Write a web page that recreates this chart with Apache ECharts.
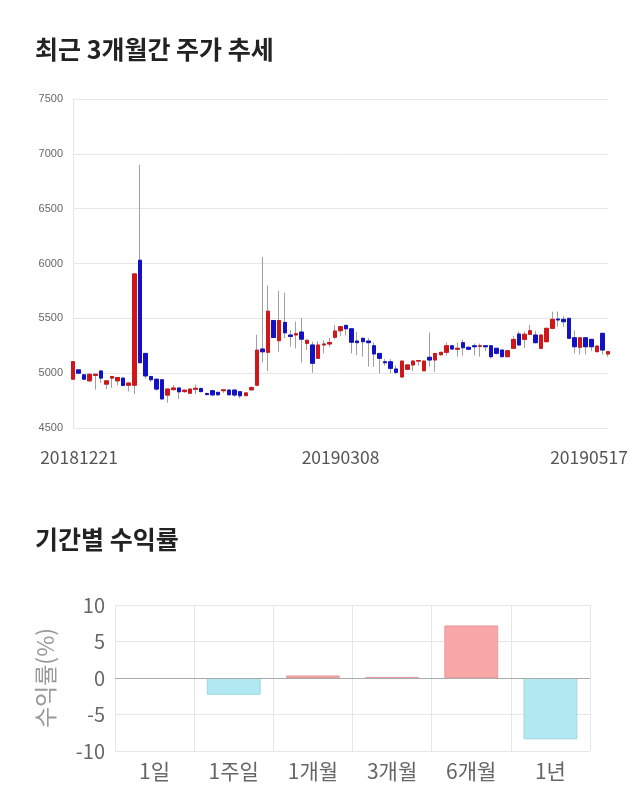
<!DOCTYPE html>
<html><head><meta charset="utf-8">
<script src="https://cdn.jsdelivr.net/npm/echarts@6/dist/echarts.min.js"></script>
<style>html,body{margin:0;padding:0;background:#fff}#c{width:640px;height:810px}</style>
</head><body><div id="c"></div>
<script>
const dates = ['20181221','20181224','20181226','20181227','20181228',
'20190102','20190103','20190104','20190107','20190108','20190109','20190110','20190111','20190114','20190115','20190116','20190117','20190118','20190121','20190122','20190123','20190124','20190125','20190128','20190129','20190130','20190131',
'20190201','20190207','20190208','20190211','20190212','20190213','20190214','20190215','20190218','20190219','20190220','20190221','20190222','20190225','20190226','20190227','20190228',
'20190304','20190305','20190306','20190307','20190308','20190311','20190312','20190313','20190314','20190315','20190318','20190319','20190320','20190321','20190322','20190325','20190326','20190327','20190328','20190329',
'20190401','20190402','20190403','20190404','20190405','20190408','20190409','20190410','20190411','20190412','20190415','20190416','20190417','20190418','20190419','20190422','20190423','20190424','20190425','20190426','20190429','20190430',
'20190502','20190503','20190507','20190508','20190509','20190510','20190513','20190514','20190515','20190516','20190517'];
const opens  = [4945,5030,4985,4930,4980,5020,4900,4955,4930,4955,4890,4890,6030,5180,4970,4945,4940,4800,4850,4865,4832,4817,4853,4860,4815,4840,4825,4840,4846,4846,4831,4795,4848,4890,5220,5190,5480,5296,5463,5348,5348,5375,5272,5257,5135,5257,5266,5327,5387,5436,5405,5293,5318,5293,5250,5180,5104,5104,5038,4965,5035,5075,5110,5022,5145,5120,5168,5190,5250,5218,5278,5236,5250,5245,5250,5250,5227,5211,5150,5227,5357,5308,5355,5348,5227,5287,5409,5494,5491,5500,5323,5236,5323,5308,5196,5363,5175];
const closes = [5105,5000,4945,4990,4990,4955,4930,4970,4960,4888,4910,5905,5095,4975,4940,4855,4765,4855,4865,4830,4845,4855,4862,4832,4805,4802,4803,4848,4803,4801,4794,4820,4868,5210,5195,5565,5325,5480,5368,5335,5360,5310,5300,5090,5257,5266,5280,5384,5424,5405,5282,5278,5287,5278,5175,5135,5095,5044,5007,5110,5075,5110,5115,5110,5120,5180,5190,5250,5220,5227,5232,5218,5241,5250,5241,5150,5181,5150,5205,5308,5257,5355,5387,5278,5348,5409,5491,5485,5469,5318,5241,5323,5241,5241,5247,5211,5196];
const lows   = [4940,4990,4935,4920,4850,4910,4855,4865,4890,4880,4835,4810,5090,4950,4920,4840,4760,4730,4840,4765,4820,4810,4810,4825,4795,4790,4795,4820,4800,4785,4770,4790,4840,4880,5100,5020,5320,5195,5320,5241,5227,5095,5211,5004,5130,5180,5240,5310,5338,5345,5180,5165,5150,5059,5059,4998,5070,5000,4990,4960,5030,5020,5070,5018,5059,5013,5160,5160,5215,5150,5160,5210,5160,5150,5200,5135,5170,5145,5145,5220,5250,5230,5350,5270,5220,5280,5400,5424,5420,5310,5180,5170,5170,5200,5190,5170,5150];
const highs  = [5110,5035,4990,4995,4995,5025,4935,4975,4965,4960,4915,5910,6900,5185,4975,4950,4945,4860,4892,4870,4850,4860,4895,4870,4820,4845,4830,4855,4850,4850,4835,4825,4880,5350,6060,5800,5485,5750,5733,5393,5470,5504,5305,5287,5290,5300,5320,5439,5430,5440,5410,5378,5325,5320,5280,5185,5130,5130,5070,5115,5080,5120,5120,5115,5370,5185,5195,5280,5255,5280,5305,5240,5270,5270,5255,5255,5230,5215,5210,5340,5380,5380,5440,5385,5355,5415,5561,5561,5520,5505,5390,5330,5330,5315,5255,5370,5200];
const priceTicks = [4500, 7500, 500];

const periods = ['1일','1주일','1개월','3개월','6개월','1년'];
const returns = [0, -2.3, 0.35, 0.15, 7.2, -8.4];
const returnTicks = [-10, 10, 5];

const FONT = "'Noto Sans CJK KR','Noto Sans',sans-serif";
const wickData = dates.map((d,i)=>[opens[i],closes[i],lows[i],highs[i]]);
const bodyData = dates.map((d,i)=>[opens[i],closes[i],Math.min(opens[i],closes[i]),Math.max(opens[i],closes[i])]);
const barData = returns.map(v=>({value:v, itemStyle:{
  color: v>=0 ? '#f7a7a7' : '#b1e9f3',
  borderColor: v>=0 ? '#eb9c9c' : '#9fd7e1',
  borderWidth: v===0 ? 0 : 1}}));
const last = dates.length-1;

const chart = echarts.init(document.getElementById('c'), null, {renderer:'canvas'});
chart.setOption({
  animation:false,
  backgroundColor:'#fff',
  title:[
    {text:'최근 3개월간 주가 추세', left:30, top:32, textStyle:{fontFamily:FONT,fontSize:25,fontWeight:'bold',color:'#222'}},
    {text:'기간별 수익률', left:30, top:522, textStyle:{fontFamily:FONT,fontSize:25,fontWeight:'bold',color:'#222'}}
  ],
  grid:[
    {left:73, right:32, top:99, height:329},
    {left:115, right:50, top:605, height:146}
  ],
  xAxis:[
    {type:'category', gridIndex:0, data:dates, boundaryGap:false,
     axisLine:{show:false}, axisTick:{show:false}, splitLine:{show:false},
     axisLabel:{interval:47, margin:21, color:'#555', fontSize:17.5, fontFamily:FONT,
       formatter:(v,i)=> i===0 ? '{f|'+v+'}' : (i===last ? '{l|'+v+'}' : '{m|'+v+'}'),
       rich:{f:{padding:[0,0,0,12],fontSize:17.5,color:'#555',fontFamily:FONT},
             m:{fontSize:17.5,color:'#555',fontFamily:FONT},
             l:{padding:[0,38,0,0],fontSize:17.5,color:'#555',fontFamily:FONT}}}},
    {type:'category', gridIndex:1, data:periods,
     axisLine:{show:false,onZero:false}, axisTick:{show:false},
     splitLine:{show:true,lineStyle:{color:'#e6e6e6'}},
     axisLabel:{margin:10, color:'#666', fontSize:21, fontFamily:FONT}}
  ],
  yAxis:[
    {type:'value', gridIndex:0, min:priceTicks[0], max:priceTicks[1], interval:priceTicks[2],
     axisLine:{show:true,lineStyle:{color:'#e6e6e6'}}, axisTick:{show:false},
     splitLine:{lineStyle:{color:'#e6e6e6'}},
     axisLabel:{color:'#666', fontSize:11, margin:10, formatter:(v)=>String(v), fontFamily:"'Liberation Sans',Arial,sans-serif"}},
    {type:'value', gridIndex:1, min:returnTicks[0], max:returnTicks[1], interval:returnTicks[2],
     name:'수익률(%)', nameLocation:'middle', nameRotate:90, nameGap:58,
     nameTextStyle:{color:'#999', fontSize:23, fontFamily:FONT},
     axisLine:{show:false}, axisTick:{show:false},
     splitLine:{lineStyle:{color:'#e6e6e6'}},
     axisLabel:{color:'#666', fontSize:20, margin:10, fontFamily:FONT}}
  ],
  series:[
    {type:'candlestick', xAxisIndex:0, yAxisIndex:0, data:wickData, barWidth:4,
     itemStyle:{color:'#a0a0a0',color0:'#a0a0a0',borderColor:'#a0a0a0',borderColor0:'#a0a0a0',borderWidth:1}},
    {type:'candlestick', xAxisIndex:0, yAxisIndex:0, data:bodyData, barWidth:4,
     itemStyle:{color:'#d0161b',color0:'#1212c4',borderColor:'#d0161b',borderColor0:'#1212c4',borderWidth:1}},
    {type:'bar', xAxisIndex:1, yAxisIndex:1, data:barData, barWidth:'68%',
     markLine:{silent:true, symbol:'none', label:{show:false},
       lineStyle:{color:'#aaa',type:'solid',width:1}, data:[{yAxis:0}]}}
  ]
});
</script></body></html>
